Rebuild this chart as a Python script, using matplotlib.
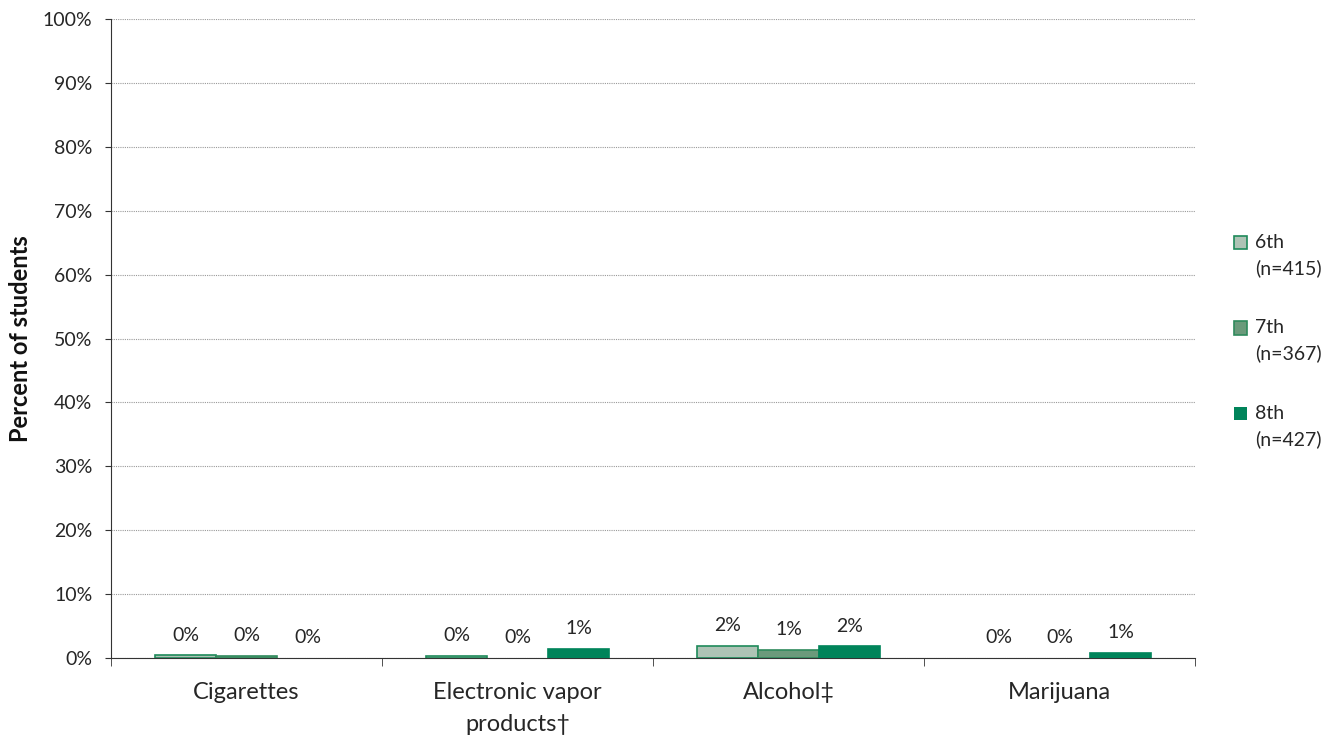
import matplotlib
matplotlib.use("Agg")
import matplotlib.pyplot as plt
from matplotlib.legend_handler import HandlerPatch, update_from_first_child
from matplotlib.container import BarContainer
from matplotlib.patches import Rectangle
import numpy as np

categories = ["Cigarettes", "Electronic vapor\nproducts\u2020", "Alcohol\u2021", "Marijuana"]
series_names = ["6th\n(n=415)", "7th\n(n=367)", "8th\n(n=427)"]
values_6th = [0.45, 0.3, 1.9, 0.0]
values_7th = [0.3, 0.0, 1.3, 0.0]
values_8th = [0.0, 1.4, 1.85, 0.8]
labels_6th = ["0%", "0%", "2%", "0%"]
labels_7th = ["0%", "0%", "1%", "0%"]
labels_8th = ["0%", "1%", "2%", "1%"]
yticks = [0, 10, 20, 30, 40, 50, 60, 70, 80, 90, 100]

plt.rcParams['font.family'] = ['Lato', 'DejaVu Sans']

fills = ["#aec3b5", "#6b9a7b", "#00845a"]
edges = ["#1e8a5a", "#2f8a5c", "#00845a"]
text_color = "#262626"

fig = plt.figure(figsize=(13.4, 7.37), dpi=100)
ax = fig.add_axes([111/1340, 1-658/737, (1195-111)/1340, (658-19)/737])

x = np.arange(len(categories))
w = 0.225
series = [values_6th, values_7th, values_8th]
labs = [labels_6th, labels_7th, labels_8th]
handles = []
for i, (vals, lb) in enumerate(zip(series, labs)):
    pos = x + (i - 1) * w
    lw = [1.2 if v > 0 else 0 for v in vals]
    b = ax.bar(pos, vals, width=w, color=fills[i], edgecolor=edges[i], linewidth=lw,
               label=series_names[i], zorder=3)
    handles.append(b)
    for p, v, t in zip(pos, vals, lb):
        ax.annotate(t, (p, v), xytext=(0, 10.5), textcoords="offset points",
                    ha="center", va="baseline", fontsize=14, color=text_color)

ax.set_xlim(-0.5, len(categories) - 0.5)
ax.set_ylim(0, 100)
ax.set_yticks(yticks)
ax.set_yticklabels([f"{t}%" for t in yticks], fontsize=14, color=text_color)
ax.yaxis.grid(True, linestyle=(0, (1, 1)), color="#999999", linewidth=0.8, zorder=0)
ax.set_xticks(x)
ax.set_xticklabels(categories, fontsize=17, color=text_color, linespacing=1.6)
ax.tick_params(axis='x', length=0, pad=17.5)
ax.set_xticks(np.arange(-0.5, len(categories)), minor=True)
ax.tick_params(axis='x', which='minor', length=6, color="#333333", direction='out')
ax.tick_params(axis='y', length=4.5, color="#333333", direction='out', pad=9)
for s in ["top", "right"]:
    ax.spines[s].set_visible(False)
ax.spines["left"].set_color("#333333")
ax.spines["bottom"].set_color("#333333")
ax.set_ylabel("Percent of students", fontsize=17, fontweight="bold", labelpad=7.5,
              color="#111111")


def up_square(legend, orig_handle, xdescent, ydescent, width, height, fontsize):
    return Rectangle((-xdescent, -ydescent + 9.6), width, height)


leg = fig.legend(handles=handles, labels=series_names, loc="upper left",
                 bbox_to_anchor=(1234/1340, 1-234/737), frameon=False, fontsize=14,
                 handlelength=0.67, handleheight=0.67, handletextpad=0.42,
                 labelspacing=2.18, borderaxespad=0, borderpad=0,
                 handler_map={BarContainer: HandlerPatch(patch_func=up_square,
                                                         update_func=update_from_first_child)})
for t in leg.get_texts():
    t.set_linespacing(1.55)
    t.set_color(text_color)

fig.savefig("out.png", dpi=100)
